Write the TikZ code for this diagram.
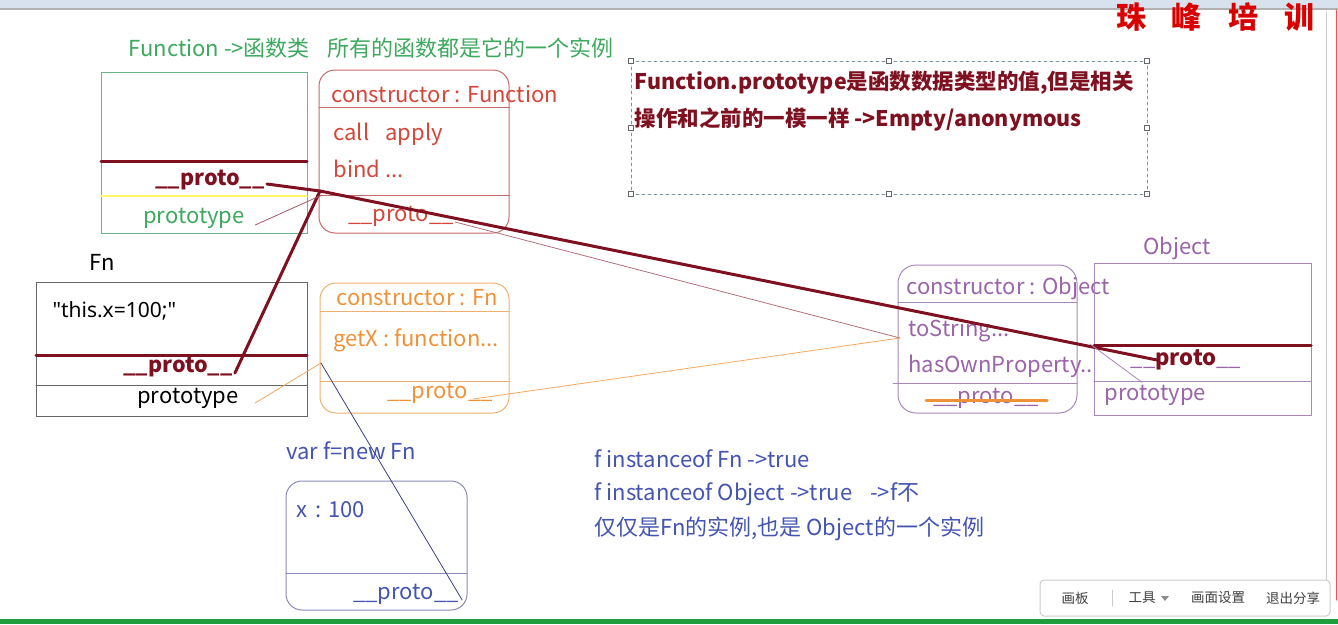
\documentclass[tikz,border=0pt]{standalone}
\usepackage{fontspec}
\setmainfont{Noto Sans CJK SC}
\newfontfamily\plain{Noto Sans}
\usetikzlibrary{calc,positioning}
\definecolor{verde}{HTML}{3DA85E}
\definecolor{verdeb}{HTML}{6DB38A}
\definecolor{rojo}{HTML}{D4463A}
\definecolor{rojob}{HTML}{C86A6A}
\definecolor{vino}{HTML}{7E1020}
\definecolor{naranja}{HTML}{EE9238}
\definecolor{naranjab}{HTML}{EDB070}
\definecolor{morado}{HTML}{9A64A8}
\definecolor{moradob}{HTML}{A888B8}
\definecolor{azul}{HTML}{4454B0}
\definecolor{marino}{HTML}{3A3E86}
\definecolor{gris}{HTML}{666666}
\definecolor{barra}{HTML}{D8E2EE}
\definecolor{pie}{HTML}{1E9E3E}

\begin{document}
\begin{tikzpicture}[x=1pt,y=-1pt,line cap=round,line width=1pt,
    lbl/.style={anchor=west,inner sep=0pt,font=\fontsize{22}{26}\selectfont},
    mid/.style={inner sep=0pt,font=\fontsize{22}{26}\selectfont},
    bold/.style={font=\fontsize{21.5}{26}\selectfont\bfseries},
    sep/.style={line width=3pt,vino},
    thin/.style={line width=0.8pt},
    tiny/.style={inner sep=0pt,font=\fontsize{13.5}{15}\selectfont,text=black!75},
    handle/.style={draw=gris,fill=white,line width=0.6pt}]
  \useasboundingbox (0,0) rectangle (1338,624);
  % screen frame
  \fill[barra] (0,0) rectangle (1338,8);
  \draw[black!30,line width=2pt] (0,9) -- (1338,9);
  \draw[black!20] (1326,12) -- (1326,580);
  \draw[red!70] (1336,10) -- (1336,600);
  \node[inner sep=0pt,text=red!85!black,font=\fontsize{30}{32}\selectfont\bfseries] (brand) at (1215,17)
        {珠\hspace{26pt}峰\hspace{26pt}培\hspace{26pt}训};
  \fill[pie] (0,619) rectangle (1338,624);
  \draw[black!20,fill=white,rounded corners=4pt] (1040,580) rectangle (1330,616);
  \node[tiny] (board) at (1075,598) {画板};
  \draw[black!20] (1112,590) -- (1112,606);
  \node[tiny] (tools) at (1142,598) {工具};
  \fill[black!45] (1161,596) -- (1169,596) -- (1165,601) -- cycle;
  \node[tiny] (scene) at (1218,598) {画面设置};
  \node[tiny] (quit) at (1293,598) {退出分享};

  % Function
  \node[lbl,text=verde] (title) at (128,48) {Function ->函数类\hspace{18pt}所有的函数都是它的一个实例};
  \draw[verdeb] (101,72) rectangle (307,233);
  \draw[sep] (101,161) -- (307,161);
  \draw[yellow!60!white,line width=1.5pt] (101,196) -- (307,196);
  \node[mid,bold,text=vino] (funproto) at (210,180) {\_\_proto\_\_};
  \node[mid,text=verde] (funpt) at (194,218) {prototype};

  % Function.prototype
  \draw[rojob,rounded corners=16pt] (319,70) rectangle (509,233);
  \draw[rojob] (319,107) -- (509,107);
  \draw[rojob] (319,195) -- (509,195);
  \node[lbl,text=rojo] (fpcons) at (331,94) {constructor : Function};
  \node[lbl,text=rojo] (fpcall) at (333,134) {call\hspace{16pt}apply};
  \node[lbl,text=rojo] (fpbind) at (333,169) {bind ...};
  \node[mid,text=rojo] (fpproto) at (401,216) {\_\_proto\_\_};
  \coordinate (fpin) at (320,191);

  % note
  \draw[black!25!cyan!40!gray,dashed,thin] (631,61) rectangle (1147,194);
  \foreach \hx/\hy in {631/61,889/61,1147/61,631/128,1147/128,631/194,889/194,1147/194}
    \draw[handle] (\hx-2.5,\hy-2.5) rectangle (\hx+2.5,\hy+2.5);
  \node[lbl,bold,text=vino] (note1) at (634,83)
        {Function.prototype是函数数据类型的值,但是相关};
  \node[lbl,bold,text=vino] (note2) at (634,119)
        {操作和之前的一模一样 ->Empty/anonymous};

  % Fn
  \node[mid] (fnname) at (102,262) {Fn};
  \draw[gris] (36,282) rectangle (307,416);
  \node[lbl,font=\fontsize{21}{26}\plain] (fnbody) at (52,311) {\char34 this.x=100;\char34};
  \draw[sep] (36,355) -- (307,355);
  \draw[gris] (36,385) -- (307,385);
  \node[mid,bold,text=vino] (fnproto) at (178,367) {\_\_proto\_\_};
  \node[mid] (fnpt) at (188,398) {prototype};

  % Fn.prototype
  \draw[naranjab,rounded corners=16pt] (320,283) rectangle (509,413);
  \draw[naranjab] (320,311) -- (509,311);
  \draw[naranjab] (320,381) -- (509,381);
  \node[lbl,text=naranja] (fnpcons) at (336,298) {constructor : Fn};
  \node[lbl,text=naranja] (fnpgetx) at (333,340) {getX : function...};
  \node[mid,text=naranja] (fnpproto) at (440,393) {\_\_proto\_\_};
  \coordinate (fnpin) at (321,363);

  % Object.prototype
  \draw[moradob,rounded corners=18pt] (898,265) rectangle (1077,413);
  \draw[moradob] (898,302) -- (1077,302);
  \draw[moradob] (893,383) -- (1077,383);
  \node[lbl,text=morado] (opcons) at (906,288) {constructor : Object};
  \node[lbl,text=morado] (opstr) at (908,331) {toString...};
  \node[lbl,text=morado] (ophas) at (908,366) {hasOwnProperty..};
  \node[mid,text=morado] (opproto) at (986,398) {\_\_proto\_\_};
  \draw[naranja,line width=3pt] (926,400) -- (1047,400);
  \coordinate (opin) at (900,338);

  % Object
  \node[mid,text=morado] (objname) at (1177,248) {Object};
  \draw[moradob] (1094,263) rectangle (1311,415);
  \draw[sep] (1094,345) -- (1311,345);
  \draw[moradob] (1094,381) -- (1311,381);
  \node[mid,text=morado] (objproto) at (1186,360)
        {\_\_\textcolor{vino}{\bfseries proto}\_\_};
  \node[lbl,text=morado] (objpt) at (1104,395) {prototype};
  \coordinate (objin) at (1157,360);
  \coordinate (opout) at (1090,344);

  % f
  \node[lbl,text=azul] (fvar) at (286,451) {var f=new Fn};
  \draw[marino!60,rounded corners=16pt] (286,481) rectangle (467,610);
  \draw[marino!60] (286,573) -- (467,573);
  \node[lbl,text=azul] (fx) at (296,510) {x\hspace{8pt}: 100};
  \node[mid,text=azul] (fproto) at (406,594) {\_\_proto\_\_};

  \node[lbl,text=azul] (inst1) at (594,459) {f instanceof Fn ->true};
  \node[lbl,text=azul] (inst2) at (594,494) {f instanceof Object ->true\hspace{18pt}->f不};
  \node[lbl,text=azul] (inst3) at (594,529) {仅仅是Fn的实例,也是 Object的一个实例};

  % links
  \draw[sep] ($(funproto.east)+(2,4)$) -- (fpin);
  \draw[sep] ($(fnproto.east)+(2,6)$) -- (fpin);
  \draw[sep] (objin) -- (fpin);
  \draw[vino!70,thin] ($(funpt.east)+(10,7)$) -- ($(fpin)+(2,4)$);
  \draw[vino!60,thin] ($(fpproto.east)+(1,6)$) -- (opin);
  \draw[naranja!80,thin] ($(fnpt.east)+(16,5)$) -- (fnpin);
  \draw[marino,thin] (fnpin) -- ($(fproto.east)+(3,6)$);
  \draw[naranja!80,thin] ($(fnpproto.east)+(-20,6)$) -- (opin);
  \draw[morado!80,thin] ($(objpt.north west)+(38,-2)$) -- (opout);
\end{tikzpicture}
\end{document}
